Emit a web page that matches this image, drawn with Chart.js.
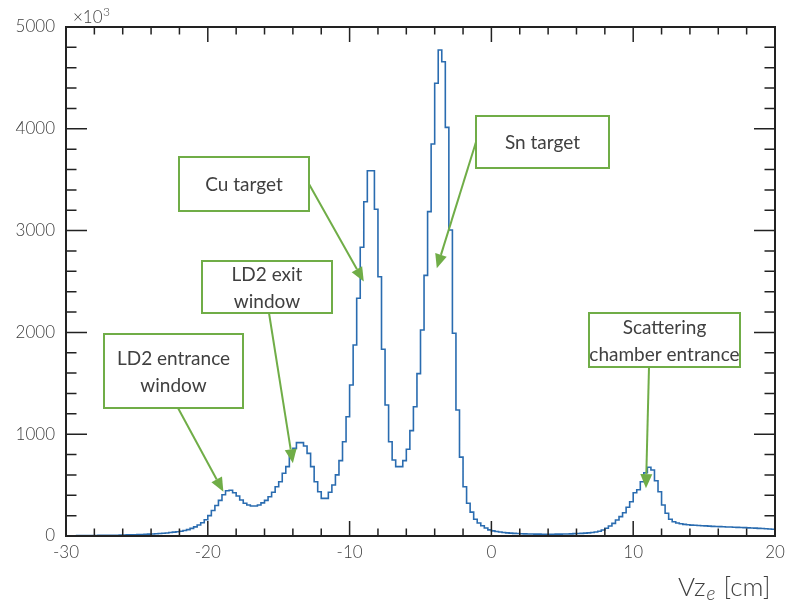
<!DOCTYPE html>
<html>
<head>
<meta charset="utf-8">
<script src="https://cdn.jsdelivr.net/npm/chart.js@4.4.0/dist/chart.umd.min.js"></script>
<style>
  html, body { margin: 0; padding: 0; background: #fff; }
  #wrap { width: 794px; height: 602px; position: relative; }
</style>
</head>
<body>
<div id="wrap"><canvas id="vz"></canvas></div>
<script>
// ===== DATA =====
// histogram binning (cm)
const binLow = -30;
const binWidth = 0.25;

// counts in each 0.25 cm bin of Vz_e, -30 .. 20 cm
const counts = [
    3, 3, 3, 4, 4, 4, 5, 5, 5, 6,
    6, 7, 7, 8, 8, 9, 10, 11, 12, 13,
    14, 15, 17, 18, 20, 22, 24, 27, 30, 34,
    38, 42, 46, 54, 63, 75, 90, 108, 130, 160,
    200, 250, 300, 350, 405, 445, 450, 425, 393, 354,
    321, 305, 295, 295, 305, 325, 350, 385, 430, 484,
    533, 616, 681, 796, 861, 917, 917, 884, 812, 681,
    533, 435, 370, 370, 430, 501, 600, 740, 926, 1172,
    1483, 1876, 2335, 2836, 3284, 3588, 3588, 3209, 2547, 1834,
    1287, 926, 747, 681, 681, 740, 852, 1035, 1270, 1595,
    2024, 2560, 3186, 3851, 4447, 4774, 4659, 4014, 3006, 1991,
    1238, 775, 484, 321, 235, 165, 128, 100, 78, 60,
    50, 44, 39, 35, 31, 28, 26, 24, 22, 21,
    20, 19, 18, 18, 17, 17, 17, 17, 18, 18,
    19, 20, 21, 23, 25, 26, 28, 31, 35, 40,
    46, 59, 76, 98, 124, 157, 190, 229, 282, 337,
    425, 455, 533, 622, 675, 648, 543, 435, 305, 223,
    164, 140, 128, 120, 114, 110, 107, 105, 103, 101,
    99, 97, 95, 94, 92, 91, 89, 88, 86, 85,
    83, 82, 80, 78, 77, 75, 73, 71, 69, 67
];

// axis ranges and ticks
const xMin = -30, xMax = 20, xMajor = 10, xMinor = 2;
const yMin = 0, yMax = 5000, yMajor = 1000, yMinor = 200;

// annotations: text lines and the (cm, counts) point each arrow aims at
const labelTexts = [
    ['LD2 entrance', 'window'],
    ['LD2 exit', 'window'],
    ['Cu target'],
    ['Sn target'],
    ['Scattering', 'chamber entrance']
];
const arrowTargetX = [-18.9, -14.0, -9.0, -3.85, 10.9];
const arrowTargetY = [435, 715, 2500, 2630, 470];

// ===== LAYOUT / STYLE =====
const GREEN = '#70ad47';
const TEXT_GREY = '#404040';
const AXIS_FONT = 'Lato, "Open Sans", sans-serif';
const NOTE_FONT = 'Lato, "Open Sans", sans-serif';

// box rectangles in pixels, plus where the arrow leaves the box
const boxes = [
    { x: 104, y: 334, w: 139, h: 74, sx: 178, sy: 408 },
    { x: 202, y: 261, w: 130, h: 52, sx: 269, sy: 313 },
    { x: 179, y: 157, w: 130, h: 54, sx: 309, sy: 184 },
    { x: 476, y: 116, w: 133, h: 52, sx: 476, sy: 142 },
    { x: 589, y: 313, w: 151, h: 54, sx: 649, sy: 367 }
];

// build step points: each value holds from its left edge to the next edge
const points = counts.map((c, i) => ({ x: binLow + i * binWidth, y: c }));
points.push({ x: binLow + counts.length * binWidth, y: counts[counts.length - 1] });

// ROOT-like frame with ticks on all four sides, pointing inwards
const frameTicks = {
    id: 'frameTicks',
    afterDatasetsDraw(chart) {
        const { ctx, chartArea: a, scales: { x, y } } = chart;
        ctx.save();
        ctx.strokeStyle = '#222';
        ctx.lineWidth = 1.5;
        ctx.beginPath();
        for (let v = xMin; v <= xMax; v += xMinor) {
            const px = x.getPixelForValue(v);
            const len = (v % xMajor === 0) ? 15 : 7.5;
            ctx.moveTo(px, a.bottom); ctx.lineTo(px, a.bottom - len);
            ctx.moveTo(px, a.top); ctx.lineTo(px, a.top + len);
        }
        for (let v = yMin; v <= yMax; v += yMinor) {
            const py = y.getPixelForValue(v);
            const len = (v % yMajor === 0) ? 21 : 10.5;
            ctx.moveTo(a.left, py); ctx.lineTo(a.left + len, py);
            ctx.moveTo(a.right, py); ctx.lineTo(a.right - len, py);
        }
        ctx.stroke();
        ctx.lineWidth = 2;
        ctx.strokeRect(a.left, a.top, a.width, a.height);

        // exponent above the y axis
        ctx.fillStyle = TEXT_GREY;
        ctx.textBaseline = 'alphabetic';
        ctx.textAlign = 'left';
        ctx.font = '300 17px ' + AXIS_FONT;
        ctx.fillText('\u00d710', 73, 23);
        const w = ctx.measureText('\u00d710').width;
        ctx.font = '300 12px ' + AXIS_FONT;
        ctx.fillText('3', 73 + w + 0.5, 16);

        // x axis title: Vz_e [cm]
        ctx.font = '300 26px ' + AXIS_FONT;
        ctx.textAlign = 'left';
        let tx = 678;
        ctx.fillText('Vz', tx, 596);
        tx += ctx.measureText('Vz').width + 1;
        ctx.font = 'italic 300 19px ' + AXIS_FONT;
        ctx.fillText('e', tx, 600);
        tx += ctx.measureText('e').width + 8;
        ctx.font = '300 26px ' + AXIS_FONT;
        ctx.fillText('[cm]', tx, 596);
        ctx.restore();
    }
};

// green boxes with arrows
const notes = {
    id: 'notes',
    afterDraw(chart) {
        const { ctx, scales: { x, y } } = chart;
        ctx.save();
        boxes.forEach((b, i) => {
            // arrow first so the box sits on top of its tail
            const tx = x.getPixelForValue(arrowTargetX[i]);
            const ty = y.getPixelForValue(arrowTargetY[i]);
            const ang = Math.atan2(ty - b.sy, tx - b.sx);
            const head = 14, half = 6;
            const bx = tx - head * Math.cos(ang), by = ty - head * Math.sin(ang);
            ctx.strokeStyle = GREEN;
            ctx.fillStyle = GREEN;
            ctx.lineWidth = 2;
            ctx.beginPath();
            ctx.moveTo(b.sx, b.sy);
            ctx.lineTo(bx, by);
            ctx.stroke();
            ctx.beginPath();
            ctx.moveTo(tx, ty);
            ctx.lineTo(bx + half * Math.sin(ang), by - half * Math.cos(ang));
            ctx.lineTo(bx - half * Math.sin(ang), by + half * Math.cos(ang));
            ctx.closePath();
            ctx.fill();

            ctx.fillStyle = '#fff';
            ctx.fillRect(b.x, b.y, b.w, b.h);
            ctx.strokeRect(b.x, b.y, b.w, b.h);

            const lines = labelTexts[i];
            const lh = 27;
            const cy = b.y + b.h / 2 - (lines.length - 1) * lh / 2;
            ctx.fillStyle = TEXT_GREY;
            ctx.font = '19px ' + NOTE_FONT;
            ctx.textAlign = 'center';
            ctx.textBaseline = 'middle';
            lines.forEach((t, k) => ctx.fillText(t, b.x + b.w / 2, cy + k * lh + 1));
        });
        ctx.restore();
    }
};

new Chart(document.getElementById('vz'), {
    type: 'line',
    data: {
        datasets: [{
            data: points,
            stepped: 'before',
            borderColor: '#2a6cb0',
            borderWidth: 1.6,
            pointRadius: 0,
            fill: false
        }]
    },
    options: {
        responsive: true,
        maintainAspectRatio: false,
        animation: false,
        layout: { padding: { top: 27, right: 19, left: 0, bottom: 0 } },
        plugins: { legend: { display: false }, tooltip: { enabled: false } },
        scales: {
            x: {
                type: 'linear',
                min: xMin,
                max: xMax,
                grid: { display: false, drawTicks: false },
                border: { display: false },
                ticks: {
                    stepSize: xMajor,
                    autoSkip: false,
                    maxRotation: 0,
                    padding: 6,
                    color: TEXT_GREY,
                    font: { family: AXIS_FONT, size: 17, weight: 300 }
                },
                afterFit(s) { s.height = 66; }
            },
            y: {
                min: yMin,
                max: yMax,
                grid: { display: false, drawTicks: false },
                border: { display: false },
                ticks: {
                    stepSize: yMajor,
                    padding: 11,
                    color: TEXT_GREY,
                    callback: v => String(v),
                    font: { family: AXIS_FONT, size: 17, weight: 300 }
                },
                afterFit(s) { s.width = 66; }
            }
        }
    },
    plugins: [frameTicks, notes]
});
</script>
</body>
</html>
